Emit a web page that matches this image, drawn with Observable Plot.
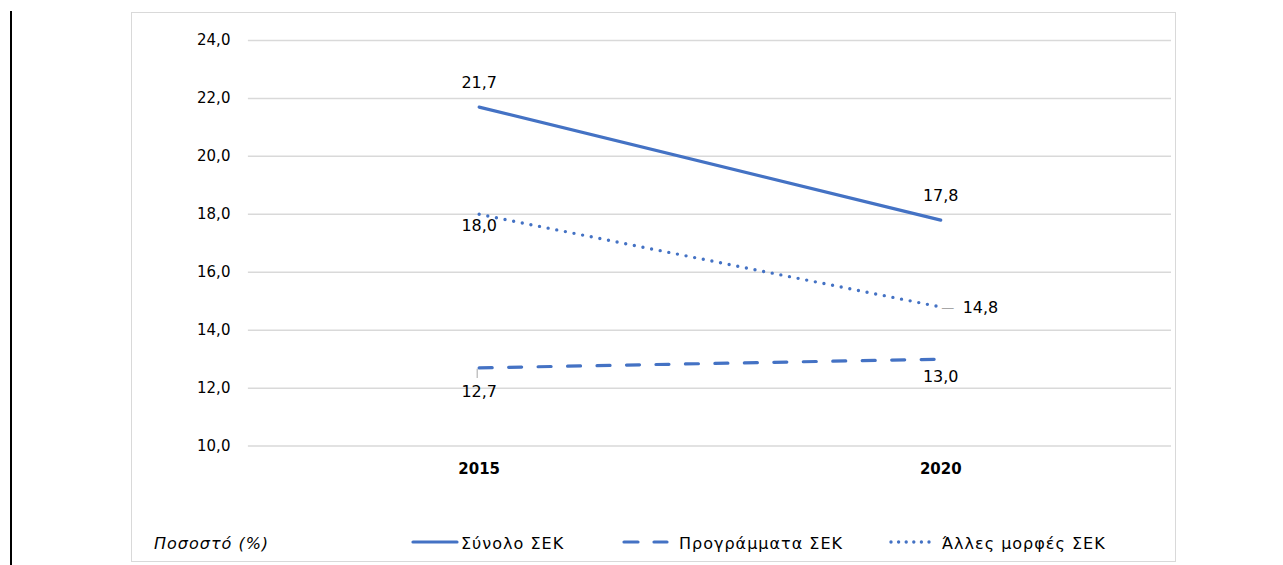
<!DOCTYPE html>
<html>
<head>
<meta charset="utf-8">
<script src="https://cdn.jsdelivr.net/npm/d3@7"></script>
<script src="https://cdn.jsdelivr.net/npm/@observablehq/plot@0.6"></script>
<style>
  body { margin:0; background:#fff; font-family:"DejaVu Sans", sans-serif; }
  #page { position:relative; width:1283px; height:565px; overflow:hidden; }
  #vline { position:absolute; left:10px; top:11px; width:2px; height:560px; background:#000; }
  #box { position:absolute; left:131px; top:12px; width:1043px; height:548px; border:1.5px solid #d9d9d9; border-bottom-width:1px; }
  #chart { position:absolute; left:0; top:0; }
  .leg { position:absolute; font-size:16px; letter-spacing:1px; color:#000; white-space:nowrap; line-height:18px; top:522px; }
  .sw { position:absolute; top:524px; line-height:0; }
  .sw svg { display:block; }
</style>
</head>
<body>
<div id="page">
  <div id="vline"></div>
  <div id="box">
    <div id="chart"></div>
    <div id="legend"></div>
  </div>
</div>
<script>
const years = ["2015", "2020"];
const seriesNames = ["Σύνολο ΣΕΚ", "Προγράμματα ΣΕΚ", "Άλλες μορφές ΣΕΚ"];
const synolo = [21.7, 17.8];
const programmata = [12.7, 13.0];
const alles = [18.0, 14.8];
const yTicks = [10, 12, 14, 16, 18, 20, 22, 24];
const yUnit = "Ποσοστό (%)";

const blue = "#4472C4";
const fmt = d => d.toFixed(1).replace(".", ",");
const styles = {
  "Σύνολο ΣΕΚ": {strokeWidth: 3.2, strokeDasharray: null, legDash: null},
  "Προγράμματα ΣΕΚ": {strokeWidth: 3.2, strokeDasharray: "13 16.5", legDash: "14 16"},
  "Άλλες μορφές ΣΕΚ": {strokeWidth: 3.4, strokeDasharray: "0 8.8", legDash: "0 7.6"}
};
const seriesValues = [synolo, programmata, alles];
const rows = [];
seriesNames.forEach((s, i) => years.forEach((y, j) => rows.push({series: s, year: y, value: seriesValues[i][j]})));

// label offsets per series/year
const lab = {
  "Σύνολο ΣΕΚ": [{dx: 0, dy: -24, anchor: "middle"}, {dx: 0, dy: -24, anchor: "middle"}],
  "Προγράμματα ΣΕΚ": [{dx: 0, dy: 24, anchor: "middle"}, {dx: 0, dy: 18, anchor: "middle"}],
  "Άλλες μορφές ΣΕΚ": [{dx: 0, dy: 12, anchor: "middle"}, {dx: 22, dy: 1, anchor: "start"}]
};

const lineMarks = seriesNames.map(s => Plot.line(rows.filter(r => r.series === s), {
  x: "year", y: "value", stroke: blue,
  strokeWidth: styles[s].strokeWidth,
  strokeDasharray: styles[s].strokeDasharray,
  strokeLinecap: "round"
}));

const labelMarks = rows.map(r => {
  const o = lab[r.series][years.indexOf(r.year)];
  return Plot.text([r], {x: "year", y: "value", text: d => fmt(d.value), dx: o.dx, dy: o.dy, textAnchor: o.anchor, fill: "#000", fontSize: 16});
});

const prog2015 = rows.find(r => r.series === "Προγράμματα ΣΕΚ" && r.year === "2015");
const alles2020 = rows.find(r => r.series === "Άλλες μορφές ΣΕΚ" && r.year === "2020");

const chart = Plot.plot({
  width: 1044, height: 480,
  marginLeft: 116, marginRight: 4, marginTop: 27, marginBottom: 47,
  style: {fontFamily: "DejaVu Sans, sans-serif", fontSize: "15px", color: "#000", background: "transparent"},
  x: {type: "point", domain: years, padding: 0.5, axis: null},
  y: {domain: [10, 24], axis: null},
  marks: [
    Plot.ruleY(yTicks, {stroke: "#d9d9d9", strokeWidth: 1.5}),
    Plot.axisY({ticks: yTicks, tickFormat: fmt, tickSize: 0, tickPadding: 18, fontSize: 15, label: null}),
    Plot.axisX({tickSize: 0, tickPadding: 17, fontWeight: "bold", fontSize: 15, label: null}),
    // leader lines
    Plot.link([prog2015], {x1: "year", x2: "year", y1: d => d.value - 0.03, y2: d => d.value - 0.35, dx: -2, stroke: "#a6a6a6", strokeWidth: 1}),
    Plot.text([alles2020], {x: "year", y: "value", text: () => "—", dx: 7, dy: 1, fill: "#a6a6a6", fontSize: 13}),
    ...lineMarks,
    ...labelMarks
  ]
});
document.getElementById("chart").appendChild(chart);

// legend
const legend = document.getElementById("legend");
const add = (cls, left, html) => { const d = document.createElement("div"); d.className = cls; d.style.left = left + "px"; d.innerHTML = html; legend.appendChild(d); };
add("leg", 22, `<i>${yUnit}</i>`);
const swPos = [{left: 279, w: 48}, {left: 490, w: 47}, {left: 757, w: 46}];
const txtPos = [329, 547, 810];
seriesNames.forEach((s, i) => {
  const st = styles[s];
  const dash = st.legDash ? `stroke-dasharray="${st.legDash}"` : "";
  add("sw", swPos[i].left, `<svg width="${swPos[i].w}" height="10"><line x1="2" x2="${swPos[i].w - 2}" y1="5" y2="5" stroke="${blue}" stroke-width="${st.strokeWidth}" stroke-linecap="round" ${dash}/></svg>`);
  add("leg", txtPos[i], s);
});
</script>
</body>
</html>
